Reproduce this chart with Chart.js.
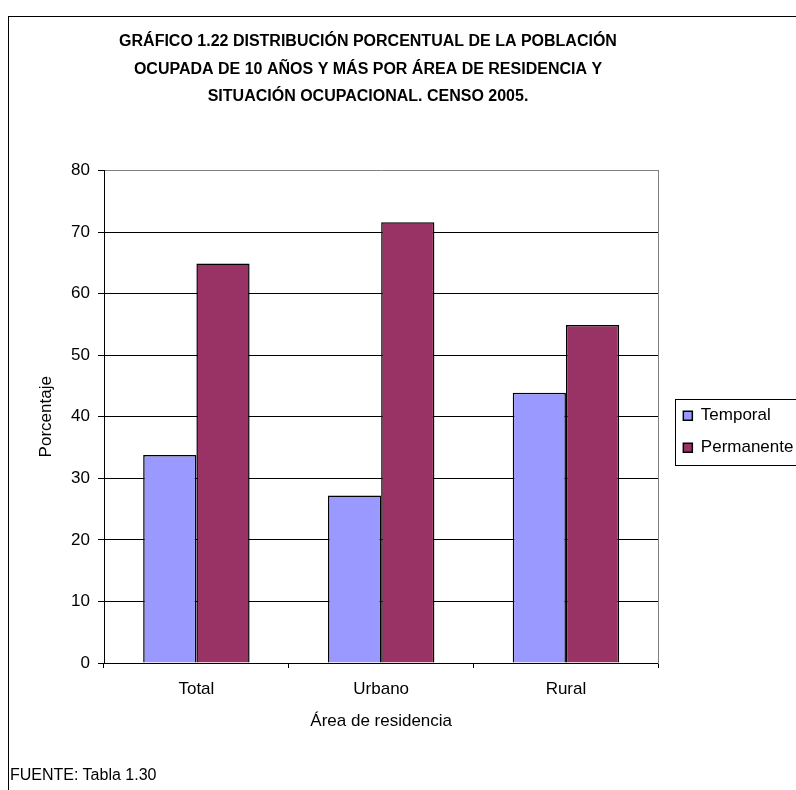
<!DOCTYPE html>
<html>
<head>
<meta charset="utf-8">
<script src="https://cdn.jsdelivr.net/npm/chart.js"></script>
<style>
  html, body { margin: 0; padding: 0; background: #fff; overflow: hidden; width: 796px; height: 790px; }
  #frame { position: absolute; left: 8px; top: 16px; width: 900px; height: 900px; border: 1px solid #000; }
  #chart { position: absolute; left: 0; top: 0; }
  #fuente { position: absolute; left: 10px; top: 765px; font: 16px 'Liberation Sans', Arial, sans-serif; line-height: 20px; color: #000; }
</style>
</head>
<body>
<div id="frame"></div>
<canvas id="chart" width="802" height="790"></canvas>
<div id="fuente">FUENTE: Tabla 1.30</div>
<script>
// data
const categories = ['Total', 'Urbano', 'Rural'];
const temporal = [33.8, 27.2, 43.9];
const permanente = [64.9, 71.6, 54.9];
const yTicks = [0, 10, 20, 30, 40, 50, 60, 70, 80];
const titleLines = [
  'GRÁFICO 1.22 DISTRIBUCIÓN PORCENTUAL DE LA POBLACIÓN',
  'OCUPADA DE 10 AÑOS Y MÁS POR ÁREA DE RESIDENCIA Y',
  'SITUACIÓN OCUPACIONAL. CENSO 2005.'
];

Chart.defaults.font.family = "'Liberation Sans', Arial, sans-serif";
Chart.defaults.color = '#000';

// legend frame + small layout tweaks (title centred further left, legend a bit lower)
const legendFrame = {
  id: 'legendFrame',
  afterLayout(chart) {
    const t = chart.titleBlock;
    t.right = t.left + 736;
    t.width = 736;
    const lg = chart.legend;
    lg.top += 15;
    lg.bottom += 15;
  },
  afterDraw(chart) {
    const lg = chart.legend;
    const boxes = lg.legendHitBoxes;
    if (!boxes || !boxes.length) return;
    const first = boxes[0];
    const last = boxes[boxes.length - 1];
    const ctx = chart.ctx;
    ctx.save();
    ctx.strokeStyle = '#000';
    ctx.lineWidth = 1;
    const x = Math.round(first.left - 8) + 0.5;
    const y = Math.round(first.top - 8.5) + 0.5;
    const h = Math.round(last.top + last.height + 8.5) - Math.round(first.top - 8.5);
    ctx.strokeRect(x, y, lg.right + 20 - x, h);
    ctx.restore();
  }
};

const ctx = document.getElementById('chart').getContext('2d');

new Chart(ctx, {
  type: 'bar',
  data: {
    labels: categories,
    datasets: [
      {
        label: 'Temporal',
        data: temporal,
        backgroundColor: '#9999FF',
        borderColor: '#000',
        borderWidth: 1.5
      },
      {
        label: 'Permanente',
        data: permanente,
        backgroundColor: '#993366',
        borderColor: '#000',
        borderWidth: 1.5
      }
    ]
  },
  options: {
    responsive: false,
    animation: false,
    devicePixelRatio: 1,
    categoryPercentage: 0.576,
    barPercentage: 1,
    layout: { padding: 0 },
    scales: {
      x: {
        afterFit: (scale) => { scale.height = 127; },
        grid: { drawOnChartArea: false, offset: true, color: '#000', tickLength: 5 },
        border: { color: '#000', width: 1 },
        ticks: { font: { size: 17 }, padding: 11, maxRotation: 0 },
        title: {
          display: true,
          text: 'Área de residencia',
          font: { size: 17 },
          padding: { top: 0, bottom: 58 }
        }
      },
      y: {
        min: 0,
        max: 80,
        afterFit: (scale) => { scale.width = 104; },
        afterBuildTicks: (scale) => { scale.ticks = yTicks.map(v => ({ value: v })); },
        grid: {
          color: (c) => (c.tick && c.tick.value === 80 ? '#808080' : '#000'),
          tickColor: '#000',
          tickLength: 6
        },
        border: { color: '#000', width: 1 },
        ticks: { font: { size: 17 }, padding: 8 },
        title: {
          display: true,
          text: 'Porcentaje',
          font: { size: 17 },
          padding: { top: 36, bottom: 0 }
        }
      },
      y2: {
        position: 'right',
        display: true,
        afterFit: (scale) => { scale.width = 10; },
        grid: { display: false },
        ticks: { display: false },
        border: { color: '#808080', width: 1 }
      }
    },
    plugins: {
      title: {
        display: true,
        text: titleLines,
        font: { size: 16, weight: 'bold', lineHeight: 1.72 },
        padding: { top: 28, bottom: 60 },
        color: '#000'
      },
      legend: {
        position: 'right',
        fullSize: false,
        labels: {
          boxWidth: 9,
          boxHeight: 9,
          padding: 15,
          font: { size: 17 },
          color: '#000'
        }
      },
      tooltip: { enabled: false }
    }
  },
  plugins: [legendFrame]
});
</script>
</body>
</html>
